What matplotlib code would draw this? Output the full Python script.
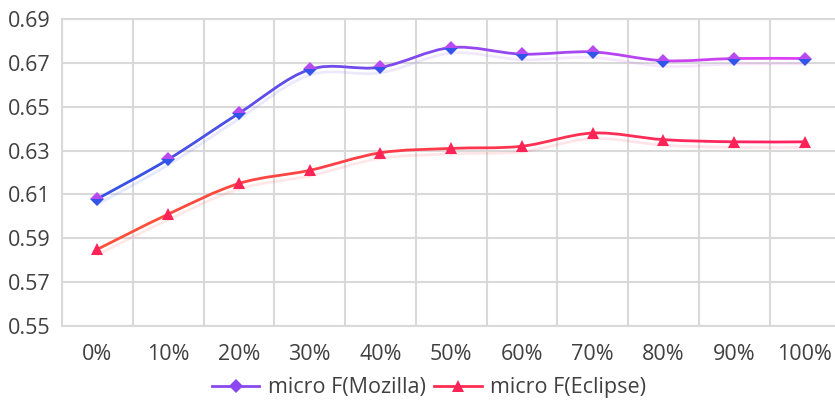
import numpy as np
import matplotlib
matplotlib.use("Agg")
from matplotlib import pyplot as plt
from matplotlib.path import Path
from matplotlib.patches import PathPatch
from matplotlib.lines import Line2D
from matplotlib.colors import to_rgb
import matplotlib.patheffects as pe

# data
labels = ["0%", "10%", "20%", "30%", "40%", "50%", "60%", "70%", "80%", "90%", "100%"]
mozilla = [0.608, 0.626, 0.647, 0.667, 0.668, 0.677, 0.674, 0.675, 0.671, 0.672, 0.672]
eclipse = [0.585, 0.601, 0.615, 0.621, 0.629, 0.631, 0.632, 0.638, 0.635, 0.634, 0.634]

plt.rcParams['font.family'] = ['Open Sans', 'DejaVu Sans']
TEXT = '#404040'
GRID = '#d9d9d9'


def mix(c1, c2, t):
  a, b = np.array(to_rgb(c1)), np.array(to_rgb(c2))
  return tuple(a + (b - a) * t)


def smooth_line(ax, xs, ys, c_start, c_end, lw=2.0):
  # excel-like smoothed line, drawn as bezier segments, colour shifts along x
  n = len(xs)
  for i in range(n - 1):
    p0 = np.array([xs[max(i - 1, 0)], ys[max(i - 1, 0)]])
    p1 = np.array([xs[i], ys[i]])
    p2 = np.array([xs[i + 1], ys[i + 1]])
    p3 = np.array([xs[min(i + 2, n - 1)], ys[min(i + 2, n - 1)]])
    c1 = p1 + (p2 - p0) / 6
    c2 = p2 - (p3 - p1) / 6
    path = Path([p1, c1, c2, p2], [Path.MOVETO, Path.CURVE4, Path.CURVE4, Path.CURVE4])
    col = mix(c_start, c_end, (i + 0.5) / (n - 1))
    patch = PathPatch(path, fill=False, edgecolor=col, lw=lw, capstyle='round', zorder=3,
                      path_effects=[pe.SimpleLineShadow(offset=(0, -4), shadow_color=col, alpha=0.12, rho=1.0),
                                    pe.Normal()])
    ax.add_patch(patch)


fig = plt.figure(figsize=(8.35, 4.05), dpi=100)
ax = fig.add_axes([0.0743, 0.195, 0.932, 0.758])

x = np.arange(len(labels))

smooth_line(ax, x, mozilla, '#2f52e6', '#e63ff5')
smooth_line(ax, x, eclipse, '#ff5236', '#ff1f63')

ax.plot(x, mozilla, ls='none', marker='D', ms=7, fillstyle='top',
        markerfacecolor='#b84af0', markerfacecoloralt='#3354e8', markeredgewidth=0, zorder=4)
ax.plot(x, eclipse, ls='none', marker='^', ms=8.5, color='#ff2457', markeredgewidth=0, zorder=4)

ax.set_xlim(-0.5, len(labels) - 0.5)
ax.set_ylim(0.55, 0.69)
ax.set_yticks(np.arange(0.55, 0.6901, 0.02))
ax.set_yticklabels([f"{v:.2f}" for v in np.arange(0.55, 0.6901, 0.02)])
ax.set_xticks(x)
ax.set_xticklabels(labels)
ax.set_xticks(np.arange(-0.5, len(labels), 1), minor=True)

ax.grid(True, axis='y', which='major', color=GRID, lw=1.5)
ax.grid(True, axis='x', which='minor', color=GRID, lw=1.5)
ax.grid(False, axis='x', which='major')
ax.set_axisbelow(True)
for s in ax.spines.values():
  s.set_color(GRID)
  s.set_linewidth(1.5)

ax.tick_params(axis='both', which='both', length=0, labelsize=15.5, colors=TEXT)
ax.tick_params(axis='x', pad=13)
ax.tick_params(axis='y', pad=8)

handles = [
  Line2D([], [], color='#8a48ee', lw=2, marker='D', ms=7, markerfacecolor='#8a48ee', markeredgewidth=0),
  Line2D([], [], color='#ff2f50', lw=2, marker='^', ms=8.5, markerfacecolor='#ff2457', markeredgewidth=0),
]
fig.legend(handles, ["micro F(Mozilla)", "micro F(Eclipse)"], loc='center', bbox_to_anchor=(0.514, 0.043),
           ncol=2, frameon=False, fontsize=15.5, handlelength=2.2, columnspacing=0.4, handletextpad=0.4,
           labelcolor=TEXT)

fig.savefig("out.png", dpi=100)
